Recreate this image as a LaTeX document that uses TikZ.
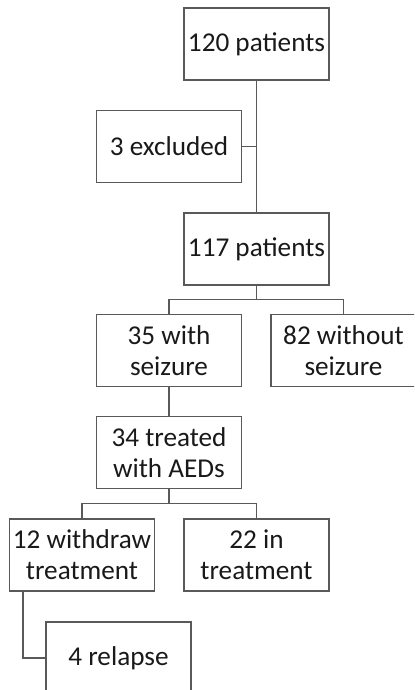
\documentclass[tikz,border=0pt]{standalone}
\usepackage{fontspec}
\setmainfont{Carlito}
\begin{document}
\begin{tikzpicture}[
	x=0.5pt, y=-0.5pt,
	box/.style={
		rectangle,
		draw=black!65,
		line width=0.8pt,
		align=center,
		inner sep=1pt,
		text=black!90,
		font=\fontsize{13.6}{15.5}\selectfont,
		minimum height=36pt,
		minimum width=72.5pt
	},
	link/.style={
		draw=black!65,
		line width=0.8pt
	},
]

\useasboundingbox (0,0) rectangle (414,690);
\clip (0,0) rectangle (414,690);

\node[box] (p120) at (256.5, 44) {120 patients};
\node[box] (excl) at (169, 146.5) {3 excluded};
\node[box] (p117) at (256.5, 249) {117 patients};

\node[box] (seiz) at (169, 350.5) {35 with\\seizure};
\node[box] (noseiz) at (343.5, 350.5) {82 without\\seizure};

\node[box] (aed) at (169, 452.5) {34 treated\\with AEDs};

\node[box] (withdraw) at (82, 555) {12 withdraw\\treatment};
\node[box] (intreat) at (256.5, 555) {22 in\\treatment};

\node[box] (relapse) at (118.5, 658) {4 relapse};

\coordinate (split_seiz) at (256.5, 299.5);
\coordinate (split_aed) at (169, 503.5);

\draw[link] (p120) -- (p117);
\draw[link] (excl.east) -- (excl.east -| p120.south);

\draw[link] (p117) -- (split_seiz);
\draw[link] (split_seiz) -| (seiz);
\draw[link] (split_seiz) -| (noseiz);

\draw[link] (seiz) -- (aed);

\draw[link] (aed) -- (split_aed);
\draw[link] (split_aed) -| (withdraw);
\draw[link] (split_aed) -| (intreat);

\draw[link] ([xshift=7pt]withdraw.south west) |- (relapse.west);

\end{tikzpicture}
\end{document}
